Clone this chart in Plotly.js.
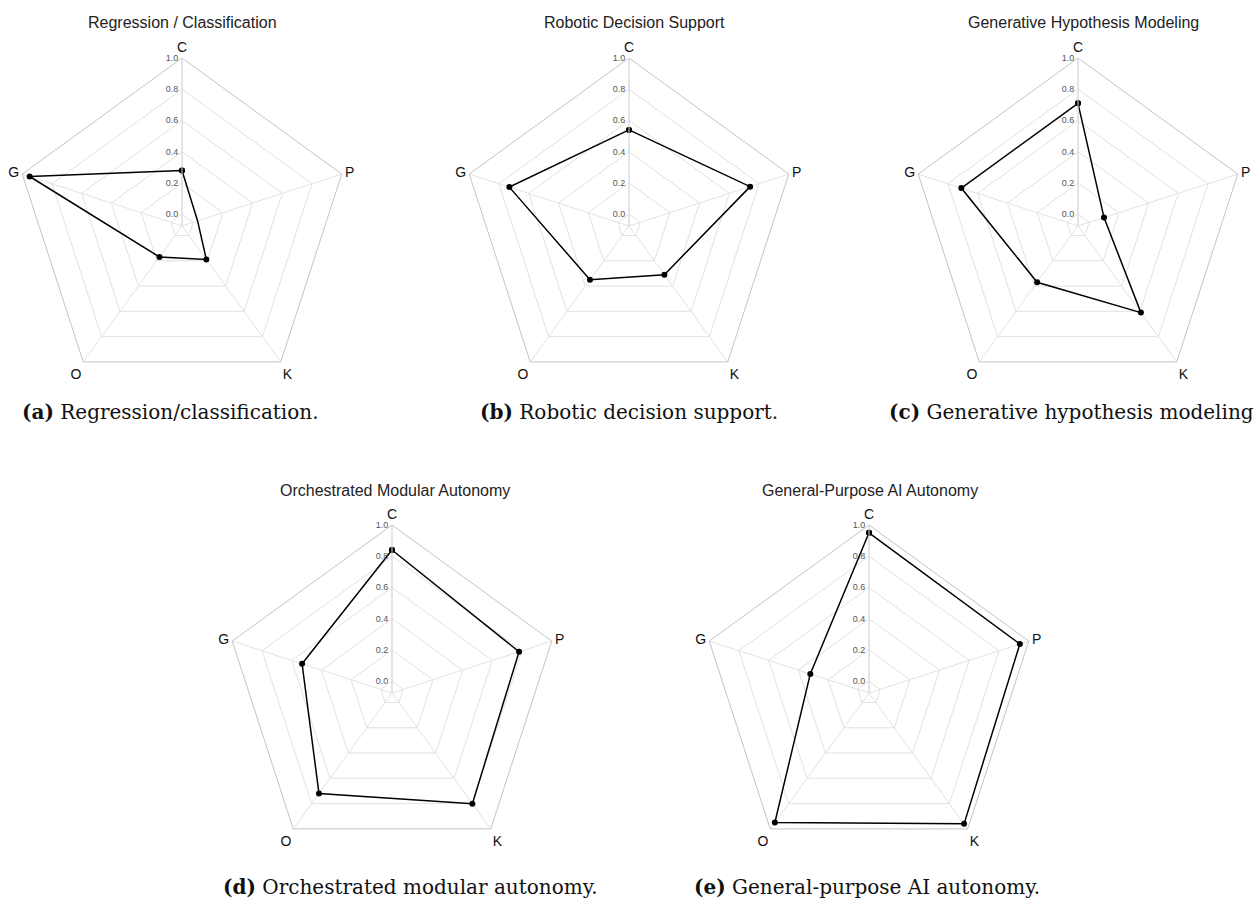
<!DOCTYPE html>
<html>
<head>
<meta charset="utf-8">
<script src="https://cdn.plot.ly/plotly-3.0.1.min.js"></script>
<style>
html,body{margin:0;padding:0;background:#fff;}
#chart{width:1255px;height:915px;}
</style>
</head>
<body>
<div id="chart"></div>
<script>
// ---- data ----
const axisLabels = ['C', 'P', 'K', 'O', 'G'];
const radialTicks = [0.0, 0.2, 0.4, 0.6, 0.8, 1.0];
const regressionClassification = [0.28, 0.03, 0.19, 0.17, 0.95];
const roboticDecisionSupport = [0.54, 0.74, 0.31, 0.35, 0.73];
const generativeHypothesisModeling = [0.71, 0.10, 0.61, 0.37, 0.71];
const orchestratedModularAutonomy = [0.84, 0.78, 0.80, 0.72, 0.53];
const generalPurposeAIAutonomy = [0.95, 0.94, 0.96, 0.95, 0.32];
const panelTitles = ['Regression / Classification', 'Robotic Decision Support', 'Generative Hypothesis Modeling', 'Orchestrated Modular Autonomy', 'General-Purpose AI Autonomy'];
const captionLetters = ['(a)', '(b)', '(c)', '(d)', '(e)'];
const captionTexts = ['Regression/classification.', 'Robotic decision support.', 'Generative hypothesis modeling', 'Orchestrated modular autonomy.', 'General-purpose AI autonomy.'];

// ---- layout geometry (pixels) ----
const W = 1255, H = 915, R = 168;
const panels = [
  {cx: 182, cy: 226, tx: 182, ty: 23, capx: 170, capy: 412},
  {cx: 629, cy: 226, tx: 634, ty: 23, capx: 629, capy: 412},
  {cx: 1078, cy: 226, tx: 1083, ty: 23, capx: 1071, capy: 412},
  {cx: 392, cy: 693, tx: 395, ty: 490, capx: 410, capy: 887},
  {cx: 869, cy: 693, tx: 870, ty: 491, capx: 867, capy: 887}
];
const seriesList = [regressionClassification, roboticDecisionSupport, generativeHypothesisModeling, orchestratedModularAutonomy, generalPurposeAIAutonomy];

const traces = [];
const layout = {
  width: W, height: H,
  margin: {l: 0, r: 0, t: 0, b: 0},
  paper_bgcolor: '#ffffff',
  showlegend: false,
  font: {family: 'Liberation Sans, Arial, sans-serif', color: '#222'},
  annotations: []
};

seriesList.forEach((vals, i) => {
  const key = i === 0 ? 'polar' : 'polar' + (i + 1);
  traces.push({
    type: 'scatterpolar',
    subplot: key,
    r: vals.concat([vals[0]]),
    theta: axisLabels.concat([axisLabels[0]]),
    mode: 'lines+markers',
    line: {color: '#000', width: 1.5},
    marker: {color: '#000', size: 6},
    hoverinfo: 'skip'
  });
  const p = panels[i];
  layout[key] = {
    domain: {
      x: [(p.cx - R) / W, (p.cx + R) / W],
      y: [1 - (p.cy + R) / H, 1 - (p.cy - R) / H]
    },
    gridshape: 'linear',
    bgcolor: 'rgba(0,0,0,0)',
    angularaxis: {
      direction: 'clockwise',
      rotation: 90,
      categoryorder: 'array',
      categoryarray: axisLabels,
      tickfont: {size: 14, color: '#111', family: 'Liberation Sans, Arial, sans-serif'},
      gridcolor: '#e2e2e2',
      gridwidth: 1,
      showline: true,
      linecolor: '#c4c4c4',
      linewidth: 1,
      ticks: ''
    },
    radialaxis: {
      range: [-0.075, 1.0],
      tickvals: radialTicks,
      tickformat: '.1f',
      angle: 90,
      tickangle: 90,
      side: 'counterclockwise',
      tickfont: {size: 9, color: '#555', family: 'Liberation Sans, Arial, sans-serif'},
      gridcolor: '#e2e2e2',
      gridwidth: 1,
      showline: true,
      linecolor: '#d8d8d8',
      ticks: ''
    }
  };
  layout.annotations.push({
    xref: 'paper', yref: 'paper',
    x: p.tx / W, y: 1 - p.ty / H,
    xanchor: 'center', yanchor: 'middle',
    text: panelTitles[i],
    showarrow: false,
    font: {size: 16, color: '#222', family: 'Liberation Sans, Arial, sans-serif'}
  });
  layout.annotations.push({
    xref: 'paper', yref: 'paper',
    x: p.capx / W, y: 1 - p.capy / H,
    xanchor: 'center', yanchor: 'middle',
    text: '<b>' + captionLetters[i] + '</b> ' + captionTexts[i],
    showarrow: false,
    font: {size: 20, color: '#111', family: 'DejaVu Serif, Liberation Serif, serif'}
  });
});

Plotly.newPlot('chart', traces, layout, {staticPlot: true, displayModeBar: false});
</script>
</body>
</html>
